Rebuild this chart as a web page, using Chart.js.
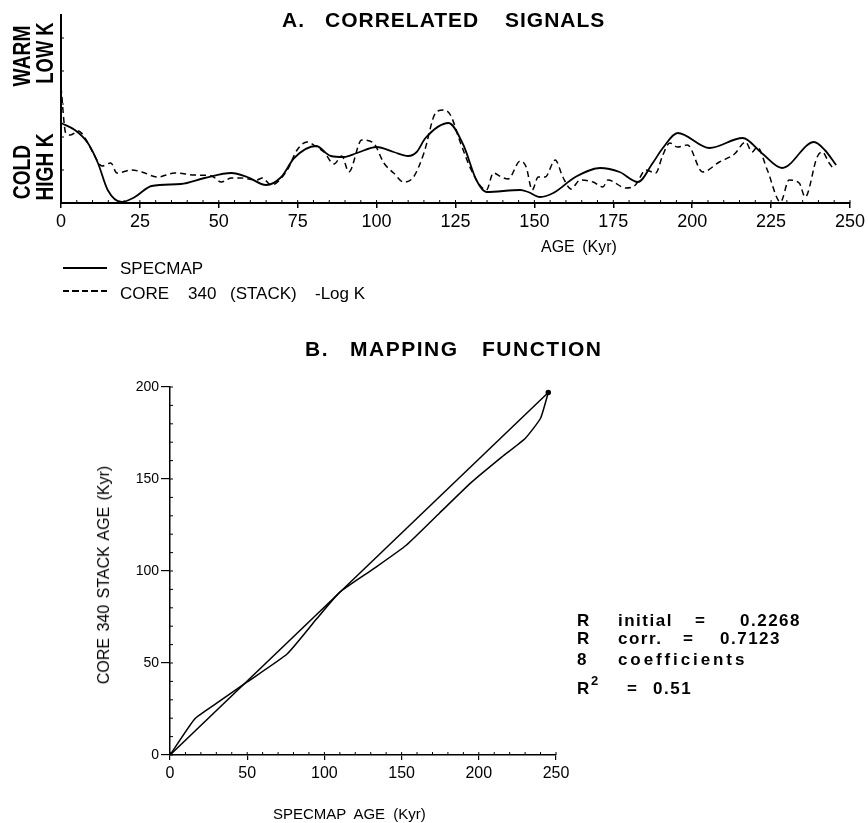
<!DOCTYPE html>
<html><head><meta charset="utf-8">
<script src="https://cdn.jsdelivr.net/npm/chart.js@4/dist/chart.umd.min.js"></script>
<style>
body{margin:0;background:#fff;width:868px;height:823px;position:relative;overflow:hidden;font-family:"Liberation Sans",Arial,sans-serif;color:#000}
.t{position:absolute;white-space:pre;line-height:1}
.b{font-weight:bold}
.rot{transform:translate(-50%,-50%) rotate(-90deg) scaleX(0.8)}
.rot2{transform:translate(-50%,-50%) rotate(-90deg)}
canvas{position:absolute;left:0}
</style></head><body>
<canvas id="cA" width="868" height="260" style="top:0"></canvas>
<canvas id="cB" width="868" height="493" style="top:330px"></canvas>

<!-- Panel A texts -->
<div class="t b" style="left:282px;top:9px;font-size:21px;letter-spacing:1px">A.</div>
<div class="t b" style="left:325px;top:9px;font-size:21px;letter-spacing:1px">CORRELATED</div>
<div class="t b" style="left:505px;top:9px;font-size:21px;letter-spacing:1px">SIGNALS</div>
<div class="t b rot" style="left:22px;top:56px;font-size:24px">WARM</div>
<div class="t b rot" style="left:45px;top:53px;font-size:23px">LOW K</div>
<div class="t b rot" style="left:22px;top:172px;font-size:24px">COLD</div>
<div class="t b rot" style="left:45px;top:167px;font-size:24px">HIGH K</div>
<div class="t" style="left:541px;top:239px;font-size:16px;word-spacing:3px">AGE (Kyr)</div>

<div style="position:absolute;left:63px;top:267px;width:44px;height:2px;background:#000"></div>
<div style="position:absolute;left:63px;top:290px;width:44px;height:2px;background:repeating-linear-gradient(90deg,#000 0 6px,transparent 6px 9.5px)"></div>
<div class="t" style="left:120px;top:260px;font-size:17px">SPECMAP</div>
<div class="t" style="left:120px;top:285px;font-size:17px">CORE</div>
<div class="t" style="left:188px;top:285px;font-size:17px">340</div>
<div class="t" style="left:230px;top:285px;font-size:17px">(STACK)</div>
<div class="t" style="left:315px;top:285px;font-size:17px">-Log K</div>

<!-- Panel B texts -->
<div class="t b" style="left:305px;top:338px;font-size:21px;letter-spacing:1.5px">B.</div>
<div class="t b" style="left:350px;top:338px;font-size:21px;letter-spacing:1.5px">MAPPING</div>
<div class="t b" style="left:482px;top:338px;font-size:21px;letter-spacing:1.5px">FUNCTION</div>
<div class="t rot2" style="left:104px;top:575px;font-size:16px;word-spacing:2px">CORE 340 STACK AGE (Kyr)</div>
<div class="t" style="left:273px;top:806px;font-size:15px;word-spacing:4px">SPECMAP AGE (Kyr)</div>

<div class="t b" style="left:577px;top:612px;font-size:17px">R</div>
<div class="t b" style="left:618px;top:612px;font-size:17px;letter-spacing:1.5px">initial</div>
<div class="t b" style="left:695px;top:612px;font-size:17px">=</div>
<div class="t b" style="left:740px;top:612px;font-size:17px;letter-spacing:1.5px">0.2268</div>
<div class="t b" style="left:577px;top:630px;font-size:17px">R</div>
<div class="t b" style="left:618px;top:630px;font-size:17px;letter-spacing:1.5px">corr.</div>
<div class="t b" style="left:683px;top:630px;font-size:17px">=</div>
<div class="t b" style="left:720px;top:630px;font-size:17px;letter-spacing:1.5px">0.7123</div>
<div class="t b" style="left:577px;top:651px;font-size:17px">8</div>
<div class="t b" style="left:618px;top:651px;font-size:17px;letter-spacing:2.9px">coefficients</div>
<div class="t b" style="left:577px;top:680px;font-size:17px">R</div>
<div class="t b" style="left:591px;top:674px;font-size:13px">2</div>
<div class="t b" style="left:627px;top:680px;font-size:17px">=</div>
<div class="t b" style="left:653px;top:680px;font-size:17px;letter-spacing:1.5px">0.51</div>

<script>
// ---------- DATA ----------
// Panel A: SPECMAP (solid)
const specmapAge = [0, 4.4, 8.5, 11.7, 14.8, 19.2, 23.4, 28.7, 38, 45.5, 54, 59, 65, 69.8, 73.9, 80.8, 85.5, 89.6, 93.8, 100, 105.4, 110, 112.7, 115.5, 122.8, 127.5, 131.6, 134.8, 145.5, 148, 151.8, 156, 163, 170.8, 177, 182.8, 187.5, 190.7, 195.4, 205.5, 216, 222, 228.5, 238.6, 242, 245.6];
const specmapVal = [80, 73, 60, 40, 13, 1, 6, 17, 19, 25, 30, 26, 18, 26, 45, 57, 47, 46, 50, 56, 51, 47, 51, 65, 80, 58, 23, 11, 13, 11, 6, 10, 26, 35, 31, 21, 40, 55, 70, 55, 65, 50, 35, 61, 53, 38];
// Panel A: CORE 340 (STACK) -Log K (dashed)
const coreAge = [0, 1.5, 3, 5.5, 8, 10.5, 13, 15.8, 17.7, 22.4, 25.6, 30.6, 36, 42.3, 47.7, 50.8, 54, 57, 62, 63.8, 66.6, 71.7, 74.8, 78, 81, 83.3, 86.5, 89, 91.2, 95.3, 99, 102.3, 105.4, 108.6, 111.7, 115, 118.7, 121.2, 123.4, 126.6, 130, 133.2, 134.8, 137, 139.5, 141.7, 145.5, 147.4, 149.3, 151.2, 153.4, 156.6, 159, 161.6, 164.5, 168.6, 171.7, 173.3, 179, 182, 185.3, 188.4, 190.7, 192.9, 195.4, 198.5, 203.3, 208.6, 213.4, 216.9, 219, 220.6, 223.8, 228, 230.7, 233.9, 235.8, 239.6, 241.2, 243.4, 245];
const coreVal = [116, 70, 68, 72, 63, 48, 37, 40, 30, 33, 31, 26, 30, 28, 27, 21, 25, 25, 23, 25, 18, 33, 53, 61, 56, 51, 39, 47, 31, 63, 60, 40, 30, 21, 26, 50, 90, 93, 88, 60, 33, 16, 13, 30, 26, 24, 42, 36, 13, 26, 26, 43, 26, 14, 23, 21, 16, 23, 15, 18, 33, 30, 48, 60, 56, 58, 31, 41, 49, 61, 51, 56, 33, 1, 23, 20, 6, 46, 51, 40, 33];
const ageTicksA = [0, 25, 50, 75, 100, 125, 150, 175, 200, 225, 250];

// Panel B: mapping function
const lineX = [0, 245];
const lineY = [0, 197];
const mapX = [0, 16, 30, 50, 76, 95, 110, 131.5, 153, 174.6, 195, 215, 230, 240, 245];
const mapY = [0, 19.6, 28, 39.7, 55, 74, 88.5, 101, 114, 131.5, 148, 162, 172, 183, 197];
const ticksBX = [0, 50, 100, 150, 200, 250];
const ticksBY = [0, 50, 100, 150, 200];

// ---------- HELPERS ----------
const pts = (xs, ys) => xs.map((x, i) => ({x, y: ys[i]}));
const FONT = "'Liberation Sans',Arial,sans-serif";

const minorTicks = {
  id: 'minorTicks',
  afterDraw(chart, args, opts) {
    const ctx = chart.ctx, a = chart.chartArea;
    ctx.save(); ctx.strokeStyle = '#000'; ctx.lineWidth = 1;
    (opts.list || []).forEach(m => {
      const s = chart.scales[m.axis];
      for (let v = s.min; v <= s.max + 1e-9; v += m.step) {
        const p = s.getPixelForValue(v);
        ctx.beginPath();
        if (m.axis === 'x') { ctx.moveTo(p, a.bottom); ctx.lineTo(p, a.bottom - m.len); }
        else { ctx.moveTo(a.left, p); ctx.lineTo(a.left + m.len, p); }
        ctx.stroke();
      }
    });
    ctx.restore();
  }
};

Chart.defaults.animation = false;
Chart.defaults.color = '#000';

// ---------- PANEL A ----------
new Chart(document.getElementById('cA'), {
  type: 'line',
  data: {
    datasets: [
      {label: 'SPECMAP', data: pts(specmapAge, specmapVal), borderColor: '#000', borderWidth: 1.8, pointRadius: 0, cubicInterpolationMode: 'monotone', fill: false},
      {label: 'CORE 340 (STACK) -Log K', data: pts(coreAge, coreVal), borderColor: '#000', borderWidth: 1.5, borderDash: [6, 4], pointRadius: 0, cubicInterpolationMode: 'monotone', fill: false}
    ]
  },
  options: {
    responsive: false,
    layout: {padding: {top: 15, right: 15, left: 0, bottom: 0}},
    plugins: {legend: {display: false}, tooltip: {enabled: false},
      minorTicks: {list: [{axis: 'x', step: 5, len: 3}, {axis: 'y', step: 33, len: 3}]}},
    scales: {
      x: {type: 'linear', min: 0, max: 250,
        afterBuildTicks: s => { s.ticks = ageTicksA.map(v => ({value: v})); },
        afterFit: s => { s.height = 57; },
        ticks: {font: {family: FONT, size: 18}, padding: 3, maxRotation: 0, autoSkip: false},
        grid: {drawOnChartArea: false, tickLength: 5, color: '#000', lineWidth: 1.5},
        border: {color: '#000', width: 2}},
      y: {type: 'linear', min: 0, max: 188,
        afterFit: s => { s.width = 61; },
        ticks: {display: false},
        grid: {display: false},
        border: {color: '#000', width: 2}}
    }
  },
  plugins: [minorTicks]
});

// ---------- PANEL B ----------
new Chart(document.getElementById('cB'), {
  type: 'line',
  data: {
    datasets: [
      {label: 'diagonal', data: pts(lineX, lineY), borderColor: '#000', borderWidth: 1.5, pointRadius: 2, pointBackgroundColor: '#000', pointBorderColor: '#000', tension: 0, fill: false},
      {label: 'mapping', data: pts(mapX, mapY), borderColor: '#000', borderWidth: 1.5, pointRadius: 0, tension: 0.15, fill: false}
    ]
  },
  options: {
    responsive: false,
    layout: {padding: {top: 57, right: 312, left: 0, bottom: 0}},
    plugins: {legend: {display: false}, tooltip: {enabled: false},
      minorTicks: {list: [{axis: 'x', step: 10, len: 3}, {axis: 'y', step: 10, len: 3}]}},
    scales: {
      x: {type: 'linear', min: 0, max: 250,
        afterBuildTicks: s => { s.ticks = ticksBX.map(v => ({value: v})); },
        afterFit: s => { s.height = 68; },
        ticks: {font: {family: FONT, size: 16}, padding: 4, maxRotation: 0, autoSkip: false},
        grid: {drawOnChartArea: false, tickLength: 5, color: '#000', lineWidth: 1.2},
        border: {color: '#000', width: 1.5}},
      y: {type: 'linear', min: 0, max: 200,
        afterBuildTicks: s => { s.ticks = ticksBY.map(v => ({value: v})); },
        afterFit: s => { s.width = 170; },
        ticks: {font: {family: FONT, size: 14}, padding: 2, autoSkip: false},
        grid: {drawOnChartArea: false, tickLength: 9, color: '#000', lineWidth: 1.2},
        border: {color: '#000', width: 1.5}}
    }
  },
  plugins: [minorTicks]
});
</script>
</body></html>
